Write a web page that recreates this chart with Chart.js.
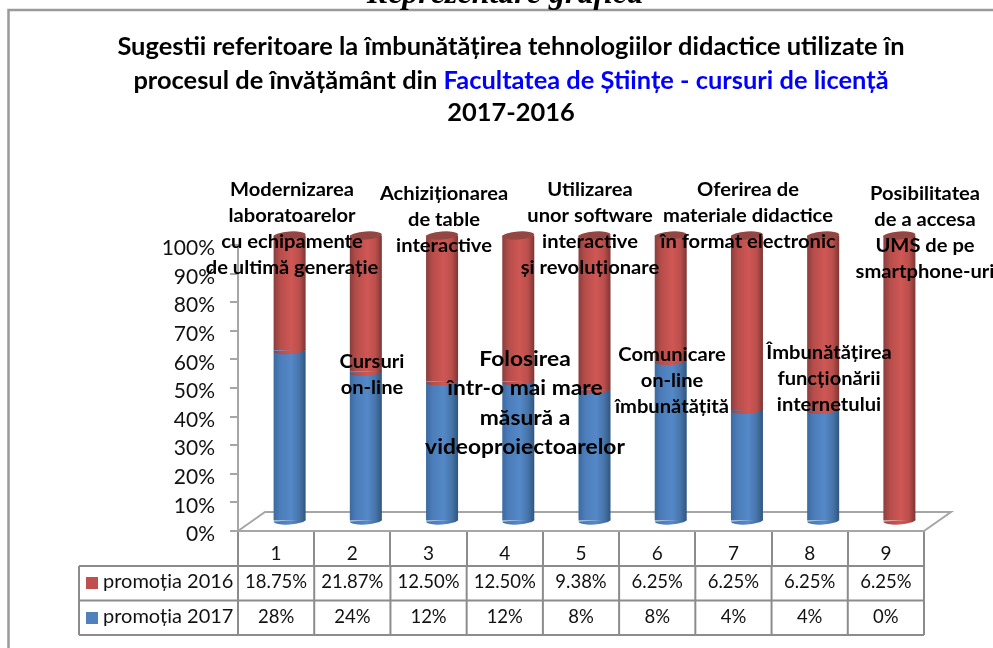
<!DOCTYPE html>
<html>
<head>
<meta charset="utf-8">
<style>html,body{margin:0;padding:0;background:#fff}canvas{display:block}</style>
<script src="https://cdn.jsdelivr.net/npm/chart.js@4"></script>
</head>
<body>
<canvas id="c" width="993" height="648"></canvas>
<script>
const categories = ["1","2","3","4","5","6","7","8","9"];
const promotia2017 = [28,24,12,12,8,8,4,4,0];
const promotia2016 = [18.75,21.87,12.5,12.5,9.38,6.25,6.25,6.25,6.25];
const labels2017 = ["28%","24%","12%","12%","8%","8%","4%","4%","0%"];
const labels2016 = ["18.75%","21.87%","12.50%","12.50%","9.38%","6.25%","6.25%","6.25%","6.25%"];
const seriesNames = ["promoția 2016","promoția 2017"];
const pageHeading = "Reprezentare grafică";
const titleLine1 = "Sugestii referitoare la îmbunătățirea tehnologiilor didactice utilizate în";
const titleLine2a = "procesul de învățământ din ";
const titleLine2b = "Facultatea de Științe - cursuri de licență";
const titleLine3 = "2017-2016";
const suggestions = [
  ["Modernizarea","laboratoarelor","cu echipamente","de ultimă generație"],
  ["Cursuri","on-line"],
  ["Achiziționarea","de table","interactive"],
  ["Folosirea","într-o mai mare","măsură a","videoproiectoarelor"],
  ["Utilizarea","unor software","interactive","și revoluționare"],
  ["Comunicare","on-line","îmbunătățită"],
  ["Oferirea de","materiale didactice","în format electronic"],
  ["Îmbunătățirea","funcționării","internetului"],
  ["Posibilitatea","de a accesa","UMS de pe","smartphone-uri"]
];

// layout (pixels), kept apart from the data
const noteLayout = [
  {x:292,y:190,dy:26,size:19},{x:372,y:362,dy:26,size:19},{x:444,y:194,dy:26,size:19},
  {x:525,y:359,dy:29.5,size:21.5},{x:590,y:190,dy:26,size:19},{x:672,y:355,dy:26,size:19},
  {x:748,y:190,dy:26,size:19},{x:829,y:353,dy:26,size:19},{x:925,y:194,dy:26,size:19}
];
const FONT = "Lato, Carlito, sans-serif";
const GRID = "#8c8c8c", AXIS = "#a6a6a6";
const DEPTH_X = 27, DEPTH_Y = 19, BAR_PCT = 0.42, RY = 4, TILT = -0.07;
const RED_STOPS = [[0,"#8a3e3c"],[0.2,"#b64d4a"],[0.55,"#cf5754"],[0.8,"#bb4f4c"],[1,"#7d3634"]];
const BLUE_STOPS = [[0,"#3a6aa0"],[0.2,"#4c7dba"],[0.55,"#5488c8"],[0.8,"#4775aa"],[1,"#2f5680"]];

const totals = categories.map((_,i)=>promotia2017[i]+promotia2016[i]);
const pct = a => a.map((v,i)=>v/totals[i]*100);

function barGeom(chart,i){
  const x = chart.scales.x, cx = x.getPixelForValue(i);
  return {cx, w:(x.width/categories.length)*BAR_PCT};
}
function grad(ctx2d,cx,w,stops){
  const g = ctx2d.createLinearGradient(cx-w/2,0,cx+w/2,0);
  stops.forEach(s=>g.addColorStop(s[0],s[1]));
  return g;
}
function barFill(stops){
  return c=>{
    if(!c.chart.chartArea) return stops[2][1];
    const b = barGeom(c.chart,c.dataIndex);
    return grad(c.chart.ctx,b.cx,b.w,stops);
  };
}
function text(ctx,s,x,y,font,color,align,stretch){
  ctx.save();
  ctx.font = font; ctx.fillStyle = color||"#000"; ctx.textAlign = align||"center"; ctx.textBaseline = "middle";
  ctx.translate(x,y); ctx.scale(stretch||1,1);
  ctx.fillText(s,0,0);
  ctx.restore();
}

const scene = {
  id:"scene",
  beforeDatasetsDraw(chart){
    const {ctx,chartArea:a} = chart;
    ctx.save();
    ctx.strokeStyle="#9a9a9a"; ctx.lineWidth=2.5;
    ctx.beginPath(); ctx.moveTo(8.5,648); ctx.lineTo(8.5,10); ctx.lineTo(993,10); ctx.stroke();
    ctx.strokeStyle=AXIS; ctx.lineWidth=2;
    ctx.beginPath();
    ctx.moveTo(a.left,a.bottom); ctx.lineTo(a.left+DEPTH_X,a.bottom-DEPTH_Y);
    ctx.lineTo(a.right+DEPTH_X,a.bottom-DEPTH_Y); ctx.lineTo(a.right,a.bottom);
    ctx.stroke();
    ctx.restore();
    ctx.save();
    ctx.translate(DEPTH_X/2,-DEPTH_Y/2);
  },
  afterDatasetsDraw(chart){
    const {ctx} = chart;
    const metas = [chart.getDatasetMeta(0),chart.getDatasetMeta(1)];
    const stops = [BLUE_STOPS,RED_STOPS];
    categories.forEach((_,i)=>{
      const {cx,w} = barGeom(chart,i);
      metas.forEach((m,k)=>{
        const el = m.data[i];
        if(Math.abs(el.base-el.y)<0.5) return;
        ctx.fillStyle = grad(ctx,cx,w,stops[k]);
        ctx.beginPath(); ctx.ellipse(cx,el.base,w/2,RY,TILT,0,Math.PI); ctx.fill();
      });
      const top = metas[1].data[i];
      ctx.fillStyle = "#944643";
      ctx.beginPath(); ctx.ellipse(cx,top.y,w/2,RY,TILT,0,2*Math.PI); ctx.fill();
    });
    ctx.restore();
  },
  afterDraw(chart){
    const {ctx,chartArea:a} = chart;
    ctx.save();
    text(ctx,pageHeading,505,-5,"italic bold 32px 'Liberation Serif', serif","#000");
    const tf = "bold 24px "+FONT, ST = 1.06;
    text(ctx,titleLine1,511,47,tf,"#000","center",ST);
    ctx.font = tf;
    const w1 = ctx.measureText(titleLine2a).width*ST, w2 = ctx.measureText(titleLine2b).width*ST;
    const sx = 511-(w1+w2)/2;
    text(ctx,titleLine2a,sx,81,tf,"#000","left",ST);
    text(ctx,titleLine2b,sx+w1,81,tf,"#0000ff","left",ST);
    text(ctx,titleLine3,511,113,tf,"#000","center",ST);
    suggestions.forEach((lines,i)=>{
      const n = noteLayout[i];
      lines.forEach((s,j)=>text(ctx,s,n.x,n.y+j*n.dy,"bold "+n.size+"px "+FONT,"#000","center",1.06));
    });
    const r1=566, r2=600.5, r3=635, tl=79;
    const cw = a.width/categories.length;
    ctx.strokeStyle=GRID; ctx.lineWidth=2;
    ctx.beginPath();
    ctx.moveTo(tl,r1); ctx.lineTo(a.right,r1);
    ctx.moveTo(tl,r2); ctx.lineTo(a.right,r2);
    ctx.moveTo(tl,r3); ctx.lineTo(a.right,r3);
    ctx.moveTo(tl,r1); ctx.lineTo(tl,r3);
    for(let i=0;i<=categories.length;i++){ const x=a.left+i*cw; ctx.moveTo(x,r1); ctx.lineTo(x,r3); }
    ctx.stroke();
    const cf = "18.5px "+FONT;
    ctx.fillStyle="#c0504d"; ctx.fillRect(86,577,12,12);
    ctx.fillStyle="#4f81bd"; ctx.fillRect(86,612,12,12);
    text(ctx,seriesNames[0],103,582,"20px "+FONT,"#111","left");
    text(ctx,seriesNames[1],103,617,"20px "+FONT,"#111","left");
    categories.forEach((_,i)=>{
      const x = chart.scales.x.getPixelForValue(i);
      text(ctx,labels2016[i],x,582,cf,"#111");
      text(ctx,labels2017[i],x,617,cf,"#111");
    });
    ctx.restore();
  }
};

new Chart(document.getElementById("c"),{
  type:"bar",
  data:{labels:categories,datasets:[
    {label:seriesNames[1],data:pct(promotia2017),backgroundColor:barFill(BLUE_STOPS),clip:false},
    {label:seriesNames[0],data:pct(promotia2016),backgroundColor:barFill(RED_STOPS),clip:false}
  ]},
  options:{
    responsive:false,animation:false,
    layout:{padding:{left:0,right:69,top:245,bottom:0}},
    datasets:{bar:{categoryPercentage:1,barPercentage:BAR_PCT}},
    plugins:{legend:{display:false},title:{display:false},tooltip:{enabled:false}},
    scales:{
      x:{stacked:true,
        afterFit(s){s.height=117;},
        grid:{drawOnChartArea:false,color:GRID,lineWidth:2,tickLength:35,offset:true},
        border:{color:AXIS,width:2},
        ticks:{color:"#111",font:{family:FONT,size:19},padding:-24,maxRotation:0}},
      y:{stacked:true,min:0,max:100,
        afterFit(s){s.width=238;},
        grid:{drawOnChartArea:false,color:AXIS,lineWidth:2,tickLength:8},
        border:{color:AXIS,width:2},
        ticks:{stepSize:10,color:"#111",font:{family:FONT,size:21},padding:15,labelOffset:3.5,callback:v=>v+"%"}}
    }
  },
  plugins:[scene]
});
</script>
</body>
</html>
